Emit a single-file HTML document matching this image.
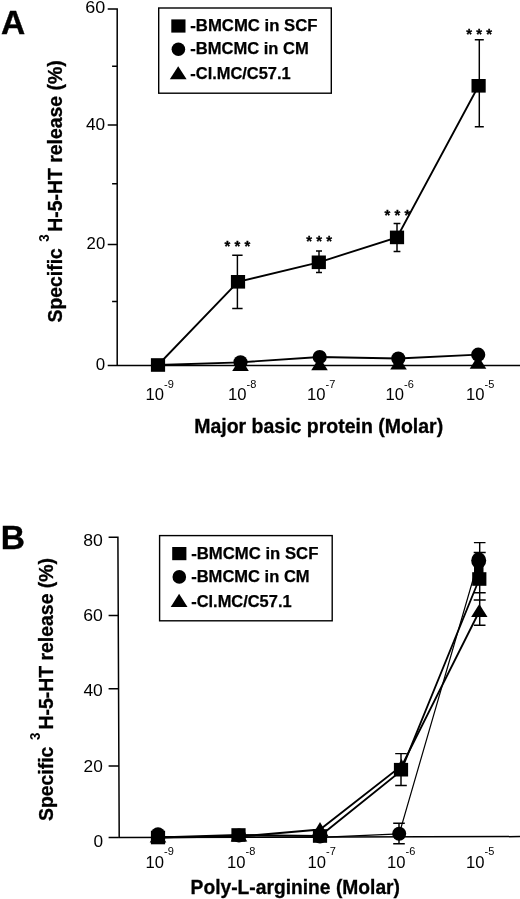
<!DOCTYPE html>
<html><head><meta charset="utf-8"><title>Figure</title>
<style>
html,body{margin:0;padding:0;background:#fff}
svg{display:block}
text{font-family:"Liberation Sans",Arial,Helvetica,sans-serif;fill:#000}
.pl{font-weight:bold;font-size:33.5px;stroke:#000;stroke-width:.4px}
.yl{font-weight:bold;font-size:19.8px;stroke:#000;stroke-width:.3px}
.y3{font-size:14.2px;font-weight:bold}
.xl{font-weight:bold;font-size:19.5px;stroke:#000;stroke-width:.3px}
.ln{fill:none;stroke:#000;stroke-width:1.85}
.thin{stroke-width:1.2}
.ax{fill:none;stroke:#000;stroke-width:1.5}
.bx{fill:none;stroke:#000;stroke-width:1.4}
.eb{fill:none;stroke:#000;stroke-width:1.45}
.tk{font-size:16px}
.sup{font-size:11px}
.lg{font-size:15.8px;font-weight:bold;stroke:#000;stroke-width:.25px}
.st{font-size:14.8px;letter-spacing:4.24px;font-weight:bold;stroke:#000;stroke-width:.3px}
</style></head><body>
<svg width="520" height="899" viewBox="0 0 520 899">
<rect width="520" height="899" fill="#fff"/>

<g id="panelA">
<text class="pl" x="1" y="34.2">A</text>
<path class="ax" d="M117.2 8.2V365.5H520M107.7 8.9H117.2M107.7 125H117.2M107.7 244.6H117.2M107.7 365.5H117.2M112.1 66.2H117.2M112.1 183.8H117.2M112.1 301.5H117.2"/>
<text class="tk" x="85.2" y="12.9" textLength="20" lengthAdjust="spacingAndGlyphs">60</text>
<text class="tk" x="86" y="129.8" textLength="19.2" lengthAdjust="spacingAndGlyphs">40</text>
<text class="tk" x="86.6" y="249" textLength="18.6" lengthAdjust="spacingAndGlyphs">20</text>
<text class="tk" x="95.8" y="370" textLength="9.4" lengthAdjust="spacingAndGlyphs">0</text>
<text class="tk" x="145.5" y="400" textLength="18.5" lengthAdjust="spacingAndGlyphs">10</text><text class="sup" x="164" y="387.7">-9</text>
<text class="tk" x="228.1" y="400" textLength="18.5" lengthAdjust="spacingAndGlyphs">10</text><text class="sup" x="246.6" y="387.7">-8</text>
<text class="tk" x="307.1" y="400" textLength="18.5" lengthAdjust="spacingAndGlyphs">10</text><text class="sup" x="325.6" y="387.7">-7</text>
<text class="tk" x="385.6" y="400" textLength="18.5" lengthAdjust="spacingAndGlyphs">10</text><text class="sup" x="404.1" y="387.7">-6</text>
<text class="tk" x="466" y="400" textLength="18.5" lengthAdjust="spacingAndGlyphs">10</text><text class="sup" x="484.5" y="387.7">-5</text>
<g transform="translate(61.8,321.4) rotate(-90)"><text class="yl" x="-1" y="0" textLength="74.2" lengthAdjust="spacingAndGlyphs">Specific</text></g>
<g transform="translate(49.2,241.6) rotate(-90)"><text class="y3" x="-0.2" y="0" textLength="7.4" lengthAdjust="spacingAndGlyphs">3</text></g>
<g transform="translate(61.8,230.4) rotate(-90)"><text class="yl" x="-1.4" y="0" textLength="171.5" lengthAdjust="spacingAndGlyphs">H-5-HT release (%)</text></g>
<text class="xl" x="194.2" y="432.7" textLength="249" lengthAdjust="spacingAndGlyphs">Major basic protein (Molar)</text>
<rect class="bx" x="158.7" y="8" width="172.6" height="85.2"/>
<rect x="171.3" y="19.4" width="14.2" height="13.2"/><circle cx="178.4" cy="49.3" r="6.8"/><polygon points="169.8,79.3 186.6,79.3 178.2,66.2"/>
<text class="lg" x="190.3" y="30.9" textLength="127.2" lengthAdjust="spacingAndGlyphs">-BMCMC in SCF</text>
<text class="lg" x="190.3" y="54.1" textLength="118.4" lengthAdjust="spacingAndGlyphs">-BMCMC in CM</text>
<text class="lg" x="190.3" y="78.9" textLength="100.4" lengthAdjust="spacingAndGlyphs">-Cl.MC/C57.1</text>
<g class="ln"><polyline points="158,365 238,281.8 318.8,262.3 397,237.4 478.6,85.8"/><polyline points="158,365 240.5,362.3 319.7,357 398.3,358.5 478.2,354.7"/></g>
<g class="eb"><path d="M237.4 255.3V308.5M232.2 255.3H242.6M232.2 308.5H242.6"/><path d="M319 251V272.4M316 251H322M316 272.4H322"/><path d="M397 223.4V251.4M393.6 223.4H400.4M393.6 251.4H400.4"/><path d="M479.3 39.8V126.8M474.8 39.8H483.8M474.8 126.8H483.8"/></g>
<rect x="150.9" y="358.2" width="14.2" height="13.6"/>
<rect x="230.9" y="275" width="14.2" height="13.6"/>
<rect x="311.7" y="255.5" width="14.2" height="13.6"/>
<rect x="389.9" y="230.6" width="14.2" height="13.6"/>
<rect x="471.5" y="79" width="14.2" height="13.6"/>
<polygon points="232.2,371 248.8,371 240.5,357.8"/>
<polygon points="311.2,370.2 327.8,370.2 319.5,357"/>
<polygon points="390.2,369.6 406.8,369.6 398.5,356.4"/>
<polygon points="469.7,368.8 486.3,368.8 478,355.6"/>
<circle cx="240.5" cy="362.3" r="7.1"/>
<circle cx="319.7" cy="357" r="7.1"/>
<circle cx="398.3" cy="358.5" r="7.1"/>
<circle cx="478.2" cy="354.7" r="7.1"/>
<text class="st" x="224.6" y="251">***</text>
<text class="st" x="306.2" y="246">***</text>
<text class="st" x="384.6" y="220">***</text>
<text class="st" x="466.2" y="39">***</text>
</g>
<g id="panelB">
<text class="pl" x="0.8" y="548.7">B</text>
<path class="ax" d="M117.9 536.5L119.2 837.5L520 836.6M108.6 537.2H118.4M108.6 615.4H118.4M108.6 688.8H118.4M108.6 766H118.4M108.6 837.5H118.4"/>
<text class="tk" x="83.2" y="546" textLength="19.6" lengthAdjust="spacingAndGlyphs">80</text>
<text class="tk" x="83.2" y="621.3" textLength="19.6" lengthAdjust="spacingAndGlyphs">60</text>
<text class="tk" x="83.4" y="695.7" textLength="19.4" lengthAdjust="spacingAndGlyphs">40</text>
<text class="tk" x="83.6" y="771.7" textLength="19.2" lengthAdjust="spacingAndGlyphs">20</text>
<text class="tk" x="93.6" y="847" textLength="9.6" lengthAdjust="spacingAndGlyphs">0</text>
<text class="tk" x="145.6" y="867.5" textLength="18.5" lengthAdjust="spacingAndGlyphs">10</text><text class="sup" x="164.1" y="855">-9</text>
<text class="tk" x="227.1" y="867.5" textLength="18.5" lengthAdjust="spacingAndGlyphs">10</text><text class="sup" x="245.6" y="855">-8</text>
<text class="tk" x="307.6" y="867.5" textLength="18.5" lengthAdjust="spacingAndGlyphs">10</text><text class="sup" x="326.1" y="855">-7</text>
<text class="tk" x="387.1" y="867.5" textLength="18.5" lengthAdjust="spacingAndGlyphs">10</text><text class="sup" x="405.6" y="855">-6</text>
<text class="tk" x="466" y="867.5" textLength="18.5" lengthAdjust="spacingAndGlyphs">10</text><text class="sup" x="484.5" y="855">-5</text>
<g transform="translate(53.4,819.9) rotate(-90)"><text class="yl" x="-1" y="0" textLength="74.2" lengthAdjust="spacingAndGlyphs">Specific</text></g>
<g transform="translate(40.2,739.9) rotate(-90)"><text class="y3" x="-0.2" y="0" textLength="7.4" lengthAdjust="spacingAndGlyphs">3</text></g>
<g transform="translate(53.4,728.1) rotate(-90)"><text class="yl" x="-1.4" y="0" textLength="171.5" lengthAdjust="spacingAndGlyphs">H-5-HT release (%)</text></g>
<text class="xl" x="190.6" y="894" textLength="209.4" lengthAdjust="spacingAndGlyphs">Poly-L-arginine (Molar)</text>
<rect class="bx" x="159.6" y="535.6" width="172.6" height="85.2"/>
<rect x="172.2" y="547" width="14.2" height="13.2"/><circle cx="179.3" cy="576.9" r="6.8"/><polygon points="170.7,606.9 187.5,606.9 179.1,593.8"/>
<text class="lg" x="191.2" y="558.5" textLength="127.2" lengthAdjust="spacingAndGlyphs">-BMCMC in SCF</text>
<text class="lg" x="191.2" y="581.7" textLength="118.4" lengthAdjust="spacingAndGlyphs">-BMCMC in CM</text>
<text class="lg" x="191.2" y="606.5" textLength="100.4" lengthAdjust="spacingAndGlyphs">-Cl.MC/C57.1</text>
<g class="ln"><polyline points="158,837.5 238.5,835 320,836 401,771 479.3,579"/><polyline points="158,837.5 239,836.5 320,829.5 402,765.5 479.5,611"/><polyline class="thin" points="158,836.5 239,837 320,837.3 399.2,833.8 478.7,560"/></g>
<g class="eb"><path d="M401 753.6V785.4M395.2 753.6H406.8M395.2 785.4H406.8"/><path d="M399 823.3V843.8M393.2 823.3H404.8M393.2 843.8H404.8"/><path d="M479.7 542.6V625.2M473.9 542.6H485.5M473.9 625.2H485.5"/><path d="M473.7 552.5H485.7M473.7 592.8H485.7M473.7 600H485.7"/></g>
<polygon points="149.7,842.5 166.3,842.5 158,829.5"/><polygon points="230.7,841.5 247.3,841.5 239,828.5"/><polygon points="311.7,836 328.3,836 320,822"/><polygon points="394.9,772 408.1,772 401.5,758.8"/><polygon points="471.1,617 487.5,617 479.3,604"/>
<rect x="150.9" y="830.7" width="14.2" height="13.6"/>
<rect x="231.4" y="828.2" width="14.2" height="13.6"/>
<rect x="312.9" y="829.2" width="14.2" height="13.6"/>
<rect x="393.9" y="762.9" width="14.2" height="13.6"/>
<rect x="472.2" y="572.2" width="14.2" height="13.6"/>
<circle cx="158" cy="834.2" r="7"/>
<circle cx="239" cy="835.5" r="7"/>
<circle cx="320" cy="836.5" r="7"/>
<circle cx="399.2" cy="833.8" r="7"/>
<ellipse cx="478.7" cy="560.5" rx="7.5" ry="8.3"/><rect x="474" y="566" width="9.5" height="7"/>
</g>
</svg></body></html>
